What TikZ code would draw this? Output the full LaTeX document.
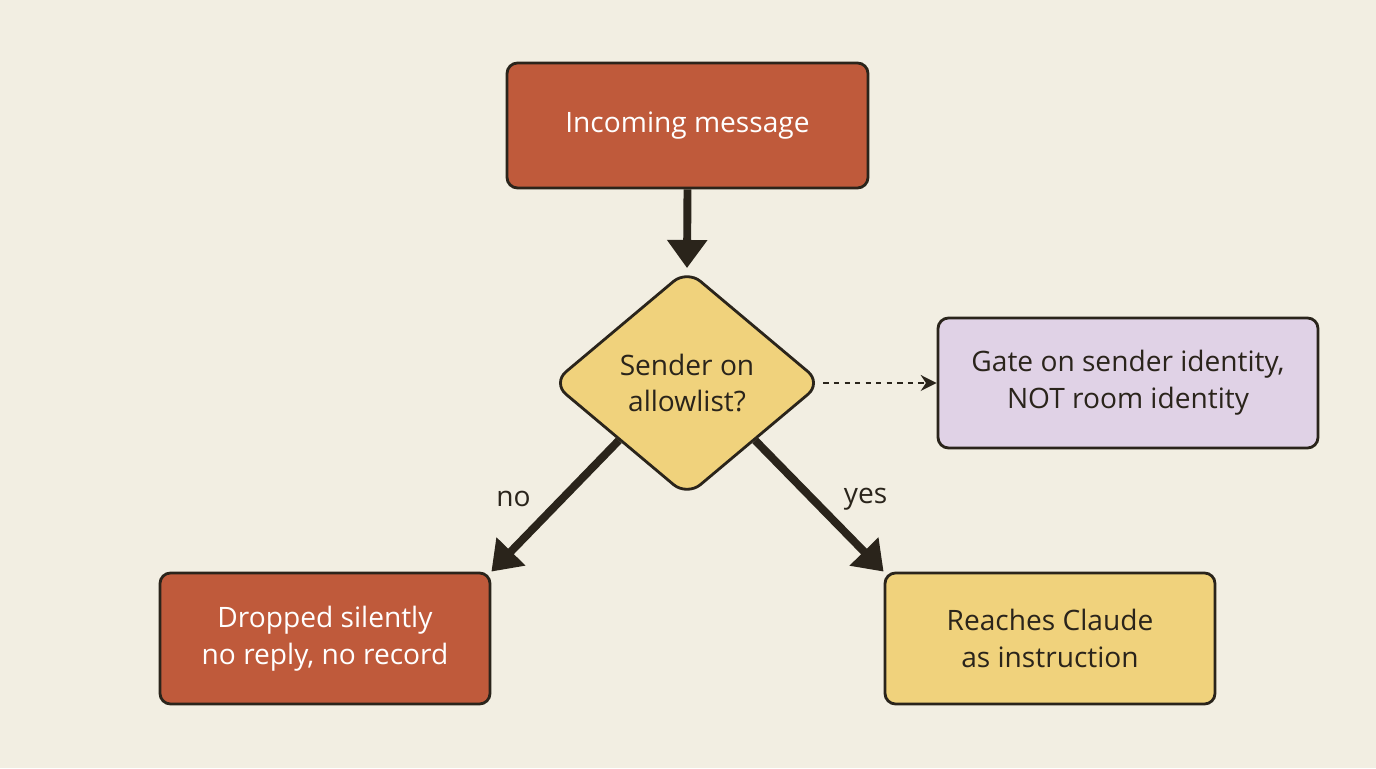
\documentclass[tikz,border=0pt]{standalone}
\usepackage{fontspec}
\setmainfont{Open Sans}
\usetikzlibrary{shapes.geometric, arrows.meta, positioning}
\definecolor{bgcol}{HTML}{F2EEE2}
\definecolor{rustcol}{HTML}{BF5A3B}
\definecolor{sandcol}{HTML}{F0D27C}
\definecolor{lilaccol}{HTML}{E0D2E6}
\definecolor{inkcol}{HTML}{2A241B}
\tikzset{
  boxnode/.style={draw=inkcol, line width=1.6pt, rounded corners=6pt, align=center,
    font=\fontsize{16}{21}\selectfont, inner sep=0pt},
  flowarrow/.style={draw=inkcol, line width=4.5pt, -{Triangle[length=16pt,width=22pt]}},
}
\begin{document}
\begin{tikzpicture}
  \fill[bgcol] (0,0) rectangle (27.52,15.36);
  \useasboundingbox (0,0) rectangle (27.52,15.36);

  % boxes
  \node[boxnode, fill=rustcol, text=white, minimum width=7.22cm, minimum height=2.5cm]
    (msg) at (13.75,12.85) {Incoming message};
  \node[boxnode, diamond, fill=sandcol, text=inkcol, minimum width=5.4cm, minimum height=4.54cm,
    rounded corners=10pt] (allow) at (13.74,7.7) {Sender on\\allowlist?};
  \node[boxnode, fill=lilaccol, text=inkcol, minimum width=7.6cm, minimum height=2.6cm]
    (gate) at (22.56,7.7) {Gate on sender identity,\\NOT room identity};
  \node[boxnode, fill=rustcol, text=white, minimum width=6.6cm, minimum height=2.62cm]
    (drop) at (6.5,2.59) {Dropped silently\\no reply, no record};
  \node[boxnode, fill=sandcol, text=inkcol, minimum width=6.6cm, minimum height=2.62cm]
    (reach) at (21,2.59) {Reaches Claude\\as instruction};

  % connectors
  \draw[flowarrow] (msg.south) -- (allow.north);
  \draw[flowarrow] (allow.south west) -- (drop.north east)
    node[pos=0.45, left=12pt, font=\fontsize{16}{20}\selectfont, text=inkcol] {no};
  \draw[flowarrow] (allow.south east) -- (reach.north west)
    node[pos=0.45, right=12pt, font=\fontsize{16}{20}\selectfont, text=inkcol] {yes};
  \draw[draw=inkcol, line width=1.6pt, dashed, -{Stealth[length=9pt,width=9pt]}]
    (allow.east) -- (gate.west);
\end{tikzpicture}
\end{document}
